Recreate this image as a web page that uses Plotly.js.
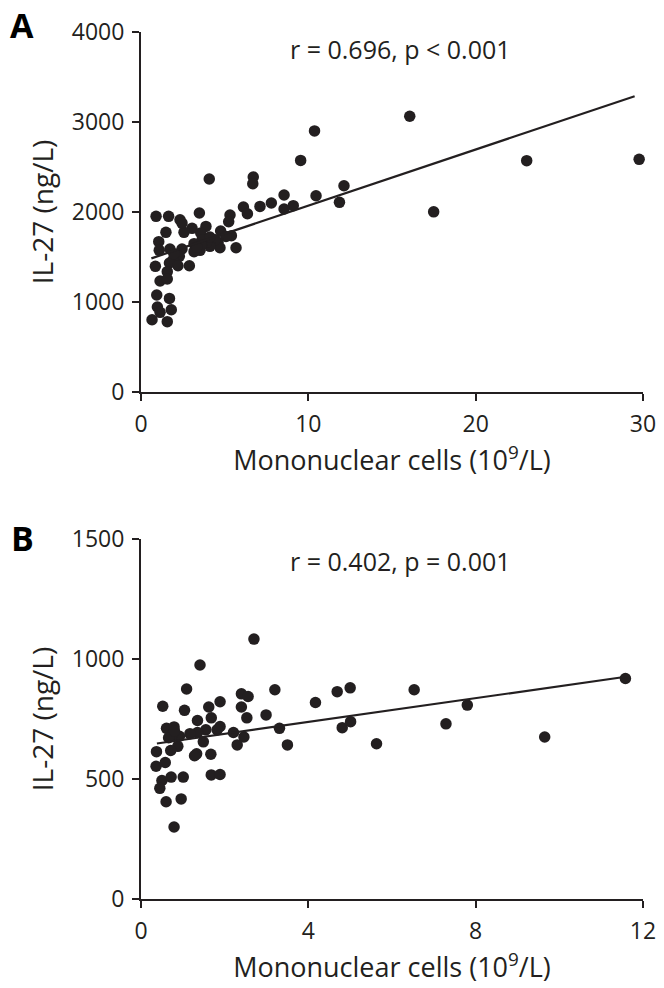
<!DOCTYPE html>
<html>
<head>
<meta charset="utf-8">
<script src="https://cdn.plot.ly/plotly-3.0.1.min.js"></script>
<style>html,body{margin:0;padding:0;background:#fff;}#chart{width:664px;height:988px;}</style>
</head>
<body>
<div id="chart"></div>
<script>
// Panel A: mononuclear cells (10^9/L) vs IL-27 (ng/L)
const aX = [4.08,6.71,6.68,9.54,12.13,11.86,10.46,8.55,9.10,8.55,7.79,7.11,6.12,6.36,5.32,5.24,4.76,5.40,5.08,5.68,4.60,4.72,4.44,4.12,3.92,3.88,3.49,3.57,3.65,3.53,3.17,3.05,2.57,2.33,2.45,1.65,0.90,1.49,1.06,1.09,1.73,2.45,2.29,1.93,1.70,2.21,2.89,0.86,1.57,1.14,1.57,0.94,1.70,0.98,1.81,1.14,0.66,1.57,3.17,3.61,4.12,3.33,1.97,16.06,10.37,23.05,29.77,17.49];
const aY = [2367,2389,2314,2573,2292,2107,2181,2189,2070,2033,2100,2062,2055,1981,1967,1892,1789,1737,1729,1603,1663,1603,1692,1618,1663,1840,1989,1767,1692,1574,1559,1818,1774,1914,1877,1952,1952,1774,1670,1574,1589,1589,1507,1470,1433,1403,1403,1396,1337,1233,1255,1078,1040,944,914,885,803,781,1648,1633,1722,1610,1537,3064,2901,2570,2585,2002];
const aFitX = [0.62, 29.5];
const aFitY = [1485, 3287];

// Panel B
const bX = [2.70,1.41,1.09,0.52,1.04,1.62,1.89,1.68,1.35,2.40,2.56,2.40,2.53,3.20,2.99,4.17,3.31,3.50,4.69,5.00,4.81,5.01,1.89,1.82,2.21,2.46,2.30,1.67,1.68,1.89,1.49,1.55,1.35,1.17,1.33,1.28,0.92,0.88,0.71,0.61,0.79,0.74,0.66,0.37,0.36,0.58,0.50,0.45,0.72,1.01,0.60,0.96,0.79,0.80,11.58,9.65,7.80,7.29,6.53,5.63];
const bY = [1083,975,875,803,786,800,822,755,744,855,844,800,755,872,767,819,711,642,864,880,714,739,719,705,694,675,642,603,517,519,655,705,694,689,605,597,678,636,619,711,717,683,672,614,553,569,494,461,508,508,405,417,300,700,919,675,808,730,872,647];
const bFitX = [0.38, 11.55];
const bFitY = [648, 925];

const annA = "r = 0.696, p < 0.001";
const annB = "r = 0.402, p = 0.001";
const xTitle = "Mononuclear cells (10<sup>9</sup>/L)";
const yTitle = "IL-27 (ng/L)";

const ink = '#231f20';
const FONT = '"Open Sans", "Noto Sans", sans-serif';

const mk = {size: 11.5, color: ink};
const data = [
  {x: aX, y: aY, type: 'scatter', mode: 'markers', marker: mk, xaxis: 'x', yaxis: 'y', cliponaxis: false, hoverinfo: 'skip'},
  {x: aFitX, y: aFitY, type: 'scatter', mode: 'lines', line: {color: ink, width: 2.2}, xaxis: 'x', yaxis: 'y', cliponaxis: false, hoverinfo: 'skip'},
  {x: bX, y: bY, type: 'scatter', mode: 'markers', marker: mk, xaxis: 'x2', yaxis: 'y2', cliponaxis: false, hoverinfo: 'skip'},
  {x: bFitX, y: bFitY, type: 'scatter', mode: 'lines', line: {color: ink, width: 2.2}, xaxis: 'x2', yaxis: 'y2', cliponaxis: false, hoverinfo: 'skip'}
];

function ax(extra) {
  return Object.assign({
    showline: true, linecolor: ink, linewidth: 2,
    ticks: 'outside', ticklen: 7, tickwidth: 2, tickcolor: ink,
    showgrid: false, zeroline: false, fixedrange: true,
    tickfont: {family: FONT, size: 23, color: ink},
    ticklabelstandoff: 3
  }, extra);
}

const layout = {
  width: 664, height: 988,
  margin: {l: 141, r: 21, t: 32, b: 89},
  paper_bgcolor: '#fff', plot_bgcolor: '#fff',
  showlegend: false,
  font: {family: FONT, color: ink},
  xaxis: ax({anchor: 'y', domain: [0, 1], range: [0, 30], tickvals: [0, 10, 20, 30],
    title: {text: xTitle, font: {family: FONT, size: 27, color: ink}, standoff: 6}}),
  yaxis: ax({anchor: 'x', domain: [0.5848, 1], range: [0, 4000], tickvals: [0, 1000, 2000, 3000, 4000],
    title: {text: yTitle, font: {family: FONT, size: 28, color: ink}, standoff: 10}}),
  xaxis2: ax({anchor: 'y2', domain: [0, 1], range: [0, 12], tickvals: [0, 4, 8, 12],
    title: {text: xTitle, font: {family: FONT, size: 27, color: ink}, standoff: 6}}),
  yaxis2: ax({anchor: 'x2', domain: [0, 0.4152], range: [0, 1500], tickvals: [0, 500, 1000, 1500],
    title: {text: yTitle, font: {family: FONT, size: 28, color: ink}, standoff: 10}}),
  annotations: [
    {text: annA, xref: 'paper', yref: 'paper', x: 0.516, y: 0.980, xanchor: 'center', yanchor: 'middle', showarrow: false, font: {family: FONT, size: 25, color: ink}},
    {text: annB, xref: 'paper', yref: 'paper', x: 0.516, y: 0.390, xanchor: 'center', yanchor: 'middle', showarrow: false, font: {family: FONT, size: 25, color: ink}},
    {text: '<b>A</b>', xref: 'paper', yref: 'paper', x: -0.237, y: 1.0369, xanchor: 'center', yanchor: 'top', showarrow: false, font: {family: FONT, size: 34, color: '#000'}},
    {text: '<b>B</b>', xref: 'paper', yref: 'paper', x: -0.237, y: 0.4454, xanchor: 'center', yanchor: 'top', showarrow: false, font: {family: FONT, size: 34, color: '#000'}}
  ]
};

Plotly.newPlot('chart', data, layout, {displayModeBar: false, staticPlot: true});
</script>
</body>
</html>
